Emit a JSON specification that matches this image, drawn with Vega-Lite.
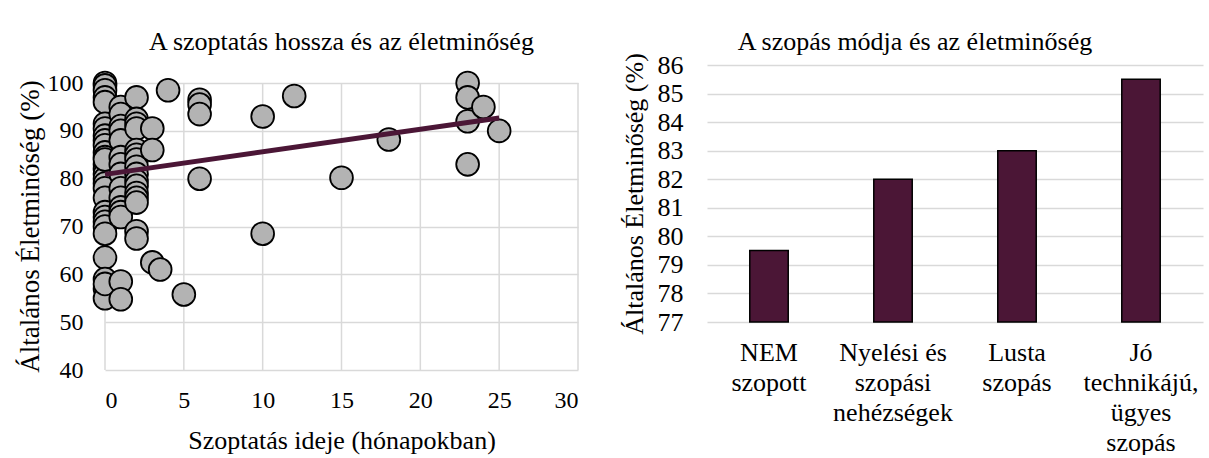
{
  "$schema": "https://vega.github.io/schema/vega-lite/v6.json",
  "background": "white",
  "padding": {"left": 16, "top": 29, "right": 6, "bottom": 0},
  "config": {
    "font": "Liberation Serif",
    "view": {"stroke": null},
    "axis": {
      "labelFont": "Liberation Serif",
      "titleFont": "Liberation Serif",
      "labelColor": "#000000",
      "titleColor": "#000000",
      "titleFontWeight": "normal",
      "gridColor": "#d9d9d9",
      "gridWidth": 1.5,
      "domain": false,
      "ticks": false,
      "labelOverlap": false,
      "labelLimit": 0
    },
    "title": {"font": "Liberation Serif", "fontWeight": "normal", "color": "#000000"},
    "concat": {"spacing": 41}
  },
  "datasets": {
    "points": [
      {"months": 0, "quality": 100}, {"months": 0, "quality": 99.5}, {"months": 0, "quality": 98.5}, {"months": 0, "quality": 97},
      {"months": 0, "quality": 96}, {"months": 0, "quality": 91.5}, {"months": 0, "quality": 90.5}, {"months": 0, "quality": 89},
      {"months": 0, "quality": 88}, {"months": 0, "quality": 87}, {"months": 0, "quality": 85.5}, {"months": 0, "quality": 84.5},
      {"months": 0, "quality": 83}, {"months": 0, "quality": 82}, {"months": 0, "quality": 81}, {"months": 0, "quality": 80},
      {"months": 0, "quality": 79}, {"months": 0, "quality": 78}, {"months": 0, "quality": 76}, {"months": 0, "quality": 73},
      {"months": 0, "quality": 72}, {"months": 0, "quality": 71}, {"months": 0, "quality": 70}, {"months": 0, "quality": 68.5},
      {"months": 0, "quality": 63.5}, {"months": 0, "quality": 59}, {"months": 0, "quality": 57}, {"months": 0, "quality": 55},
      {"months": 0, "quality": 58}, {"months": 0, "quality": 84},
      {"months": 1, "quality": 95}, {"months": 1, "quality": 93.5}, {"months": 1, "quality": 91}, {"months": 1, "quality": 90},
      {"months": 1, "quality": 88}, {"months": 1, "quality": 84.5}, {"months": 1, "quality": 83}, {"months": 1, "quality": 81},
      {"months": 1, "quality": 78}, {"months": 1, "quality": 76}, {"months": 1, "quality": 74}, {"months": 1, "quality": 73},
      {"months": 1, "quality": 72}, {"months": 1, "quality": 58.5}, {"months": 1, "quality": 54.8},
      {"months": 2, "quality": 97}, {"months": 2, "quality": 92.5}, {"months": 2, "quality": 91.5}, {"months": 2, "quality": 90.5},
      {"months": 2, "quality": 86}, {"months": 2, "quality": 85}, {"months": 2, "quality": 84}, {"months": 2, "quality": 82.5},
      {"months": 2, "quality": 81}, {"months": 2, "quality": 79.5}, {"months": 2, "quality": 78.5}, {"months": 2, "quality": 77},
      {"months": 2, "quality": 76}, {"months": 2, "quality": 75}, {"months": 2, "quality": 69}, {"months": 2, "quality": 67.5},
      {"months": 3, "quality": 90.5}, {"months": 3, "quality": 86}, {"months": 3, "quality": 62.5},
      {"months": 3.5, "quality": 61}, {"months": 4, "quality": 98.5}, {"months": 5, "quality": 55.8},
      {"months": 6, "quality": 96.5}, {"months": 6, "quality": 95.5}, {"months": 6, "quality": 93.5}, {"months": 6, "quality": 80},
      {"months": 10, "quality": 93}, {"months": 10, "quality": 68.5}, {"months": 12, "quality": 97.3},
      {"months": 15, "quality": 80.2}, {"months": 18, "quality": 88.2},
      {"months": 23, "quality": 100}, {"months": 23, "quality": 97}, {"months": 23, "quality": 92}, {"months": 23, "quality": 83},
      {"months": 24, "quality": 95}, {"months": 25, "quality": 90}
    ],
    "trend": [
      {"months": 0, "quality": 80.9},
      {"months": 25, "quality": 92.7}
    ],
    "xgrid": [
      {"months": 0}, {"months": 5}, {"months": 10}, {"months": 15}, {"months": 20}, {"months": 25}, {"months": 30}
    ],
    "bars": [
      {"mode": "NEM|szopott", "quality": 79.5, "base": 77},
      {"mode": "Nyelési és|szopási|nehézségek", "quality": 82, "base": 77},
      {"mode": "Lusta|szopás", "quality": 83, "base": 77},
      {"mode": "Jó|technikájú,|ügyes|szopás", "quality": 85.5, "base": 77}
    ]
  },
  "hconcat": [
    {
      "width": 473,
      "height": 305,
      "title": {"text": "A szoptatás hossza és az életminőség", "font": "Liberation Serif", "fontSize": 26, "offset": 10, "anchor": "middle"},
      "layer": [
        {
          "data": {"name": "xgrid"},
          "mark": {"type": "rule", "color": "#d9d9d9", "strokeWidth": 1.5},
          "encoding": {
            "x": {"field": "months", "type": "quantitative"},
            "y": {"datum": 40},
            "y2": {"datum": 100}
          }
        },
        {
          "data": {"name": "points"},
          "mark": {"type": "point", "shape": "circle", "filled": true, "size": 520, "fill": "#b3b3b3", "stroke": "#000000", "strokeWidth": 1.8, "opacity": 1},
          "encoding": {
            "x": {
              "field": "months", "type": "quantitative",
              "scale": {"domain": [0, 30], "nice": false},
              "axis": {"values": [0, 5, 10, 15, 20, 25, 30], "title": "Szoptatás ideje (hónapokban)", "labelFontSize": 24, "titleFontSize": 26, "labelPadding": 18, "titlePadding": 15, "grid": false}
            },
            "y": {
              "field": "quality", "type": "quantitative",
              "scale": {"domain": [40, 103.77], "nice": false, "zero": false},
              "axis": {"values": [40, 50, 60, 70, 80, 90, 100], "title": "Általános Életminőség (%)", "labelFontSize": 24, "titleFontSize": 27, "labelPadding": 22, "titlePadding": 3, "titleY": 161, "grid": true}
            }
          }
        },
        {
          "data": {"name": "trend"},
          "mark": {"type": "line", "color": "#4b1636", "strokeWidth": 5},
          "encoding": {
            "x": {"field": "months", "type": "quantitative"},
            "y": {"field": "quality", "type": "quantitative"}
          }
        }
      ]
    },
    {
      "width": 496,
      "height": 257,
      "title": {"text": "A szopás módja és az életminőség", "font": "Liberation Serif", "fontSize": 26, "offset": -3, "anchor": "middle", "dx": -40},
      "data": {"name": "bars"},
      "mark": {"type": "bar", "fill": "#4b1636", "stroke": "#000000", "strokeWidth": 1.5},
      "encoding": {
        "x": {
          "field": "mode", "type": "nominal", "sort": null,
          "scale": {"paddingInner": 0.69, "paddingOuter": 0.345},
          "axis": {"title": null, "labelAngle": 0, "labelFontSize": 26, "labelPadding": 17, "labelLineHeight": 30, "labelExpr": "split(datum.label, '|')", "grid": false}
        },
        "y": {
          "field": "quality", "type": "quantitative",
          "scale": {"domain": [77, 86], "nice": false, "zero": false},
          "axis": {"values": [77, 78, 79, 80, 81, 82, 83, 84, 85, 86], "title": "Általános Életminőség (%)", "labelFontSize": 26, "titleFontSize": 26, "labelPadding": 24, "titlePadding": 10, "grid": true}
        },
        "y2": {"field": "base"}
      }
    }
  ]
}
